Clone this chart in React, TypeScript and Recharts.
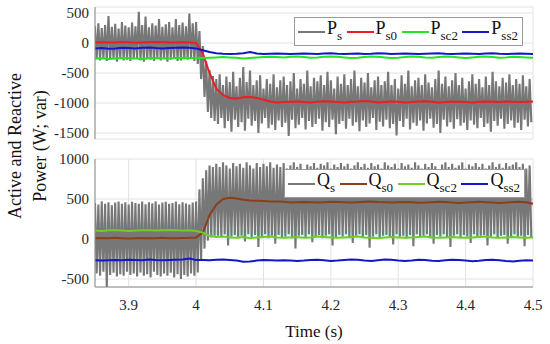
import { LineChart, Line, XAxis, YAxis, CartesianGrid, ReferenceArea } from 'recharts'

const FONT = '"Liberation Serif", "Times New Roman", serif'
const FRAME = '#8c8c8c'
const GRID = '#e2e2e2'

// time grid: the fast (grey) signals have one peak and one trough every 5 ms,
// the filtered signals are read every 10 ms
const T0 = 3.85
const FAST_STEP = 0.005
const SLOW_STEP = 0.01
const xTicks = [3.9, 4, 4.1, 4.2, 4.3, 4.4, 4.5]

// ---- active power (W) ----
const psHigh = [
  280, 330, 250, 300, 450, 270, 320, 240, 350, 290, 260, 340, 280, 520, 300, 440, 260, 330, 290, 400,
  270, 310, 350, 260, 400, 300, 340, 280, 490, 330,
  350, 200, -50, -300, -450, -550,
  -600, -520, -700, -560, -650, -480, -720, -580, -400, -650,
  -460, -700, -620, -540, -760, -600, -680, -520, -740, -620,
  -560, -700, -640, -500, -760, -600, -680, -460, -720, -580,
  -640, -540, -700, -480, -620, -760, -560, -680, -520, -700,
  -600, -460, -720, -580, -660, -500, -740, -620, -560, -700,
  -640, -480, -700, -600, -760, -540, -680, -460, -720, -620,
  -580, -700, -520, -660, -740, -600, -460, -680, -560, -720,
  -620, -500, -700, -580, -760, -640, -520, -680, -600, -740,
  -560, -700, -480, -640, -720, -580, -660, -520, -700, -600,
  -680, -540, -720, -600,
]
const psLow = [
  -270, -290, -260, -300, -280, -270, -310, -260, -290, -280, -300, -270, -260, -290, -310, -270, -280, -300, -260, -290,
  -270, -310, -280, -260, -300, -290, -270, -280, -260, -300,
  -350, -600, -900, -1150, -1250, -1300,
  -1350, -1250, -1420, -1300, -1480, -1280, -1400, -1320, -1460, -1260,
  -1380, -1300, -1500, -1340, -1250, -1420, -1360, -1450, -1290, -1400,
  -1330, -1550, -1280, -1420, -1360, -1250, -1440, -1300, -1400, -1350,
  -1260, -1460, -1320, -1400, -1280, -1520, -1350, -1300, -1430, -1260,
  -1380, -1320, -1470, -1290, -1400, -1340, -1250, -1450, -1310, -1390,
  -1280, -1420, -1350, -1540, -1300, -1400, -1260, -1440, -1330, -1380,
  -1290, -1460, -1340, -1260, -1410, -1350, -1500, -1280, -1390, -1320,
  -1430, -1270, -1380, -1330, -1450, -1290, -1360, -1420, -1250, -1400,
  -1340, -1480, -1300, -1380, -1260, -1430, -1350, -1290, -1410, -1330,
  -1450, -1280, -1390, -1320,
]
const ps0 = [
  10, 12, 8, 10, 15, 12, 5, 10, 12, 15, 12, 10, 8, 12, 10, 0,
  -180, -500, -760, -870, -915, -925, -905, -900, -915, -945, -975, -990, -985,
  -980, -975, -985, -990, -980, -970, -975, -985, -990, -980, -975, -965, -975, -990, -985, -975,
  -980, -990, -985, -975, -970, -980, -990, -985, -975, -980, -985, -990, -980, -975, -980, -985,
  -975, -980, -985, -980, -975,
]
const psc2 = [
  -260, -255, -265, -260, -250, -255, -260, -265, -255, -250, -255, -260, -250, -245, -250, -255,
  -250, -245, -240, -235, -240, -245, -260, -250, -240, -235, -230, -235, -240,
  -230, -225, -235, -245, -240, -230, -225, -230, -240, -250, -245, -235, -225, -230, -240, -250,
  -245, -235, -225, -230, -240, -245, -235, -225, -230, -240, -250, -240, -230, -225, -235, -245,
  -240, -230, -235, -240, -245,
]
const pss2 = [
  -90, -85, -95, -90, -80, -85, -90, -80, -75, -85, -90, -85, -80, -75, -80, -90,
  -120, -150, -170, -180, -185, -180, -170, -150, -175, -185, -180, -175, -180,
  -185, -180, -175, -180, -185, -175, -170, -180, -185, -180, -175, -185, -180, -170, -175, -185,
  -180, -175, -180, -185, -180, -175, -170, -180, -185, -180, -175, -180, -185, -175, -170, -180,
  -185, -180, -175, -180, -185,
]

// ---- reactive power (var) ----
const qsHigh = [
  450, 430, 470, 440, 460, 420, 455, 470, 440, 460, 430, 465, 450, 440, 470, 435, 460, 445, 470, 430,
  455, 465, 440, 450, 470, 435, 460, 445, 430, 455,
  470, 620, 760, 860, 920, 900,
  940, 900, 960, 920, 880, 950, 910, 940, 890, 960,
  920, 880, 950, 900, 940, 910, 960, 890, 930, 900,
  950, 880, 920, 960, 900, 940, 870, 930, 910, 950,
  890, 940, 920, 960, 880, 930, 900, 950, 910, 940,
  880, 920, 960, 900, 940, 890, 950, 910, 930, 880,
  960, 920, 900, 940, 880, 950, 910, 930, 890, 960,
  920, 880, 940, 900, 950, 910, 870, 930, 960, 900,
  940, 890, 920, 960, 880, 930, 910, 950, 900, 940,
  880, 920, 960, 900, 940, 890, 950, 910, 930, 960,
  900, 940, 880, 920,
]
const qsLow = [
  -430, -460, -410, -600, -450, -420, -470, -440, -460, -410, -450, -430, -470, -420, -460, -440, -480, -410, -450, -470,
  -430, -460, -420, -480, -440, -500, -450, -470, -430, -460,
  -420, -260, -120, -20, 20, 40,
  40, 20, 60, -80, 30, 50, 10, 40, -30, 60,
  20, 50, -100, 30, 60, 10, 40, -60, 50, 20,
  30, 60, 10, -120, 40, 50, 20, 60, -40, 30,
  50, 10, 40, 60, -80, 20, 50, 30, 60, 10,
  -50, 40, 60, 20, 50, -110, 30, 60, 10, 40,
  50, 20, -70, 60, 30, 40, 10, 50, -90, 60,
  20, 40, 60, 10, -60, 50, 30, 60, 20, -100,
  40, 60, 10, 50, 30, -50, 60, 20, 40, 50,
  -80, 30, 60, 10, 40, 50, -60, 20, 60, 30,
  40, -90, 50, 20,
]
const qs0 = [
  10, 12, 8, 15, 10, 5, 10, 12, 8, 10, 15, 10, 8, 12, 15, 20,
  80, 300, 430, 500, 515, 505, 490, 482, 478, 474, 470, 468, 465,
  455, 460, 462, 458, 455, 460, 465, 462, 458, 455, 460, 465, 468, 462, 458, 455,
  460, 462, 458, 452, 455, 460, 465, 462, 455, 450, 455, 460, 465, 460, 455, 450,
  455, 462, 465, 458, 440,
]
const qsc2 = [
  105, 100, 108, 110, 105, 100, 105, 110, 108, 105, 110, 112, 108, 105, 110, 100,
  80, 40, 25, 30, 20, 15, 25, 10, 20, 25, 30, 20, 15,
  20, 25, 15, 20, 30, 25, 20, 15, 20, 25, 30, 20, 15, 10, 20, 25,
  20, 15, 20, 25, 30, 20, 15, 20, 25, 20, 15, 20, 25, 30, 20, 15,
  20, 25, 20, 15, 20,
]
const qss2 = [
  -265, -268, -265, -262, -265, -260, -262, -265, -255, -262, -265, -262, -258, -255, -245, -262,
  -262, -265, -258, -255, -262, -270, -285, -282, -270, -262, -265, -270, -265,
  -268, -275, -270, -262, -258, -265, -275, -270, -262, -255, -260, -270, -275, -265, -255, -260,
  -270, -275, -268, -258, -262, -272, -275, -265, -258, -262, -270, -278, -272, -262, -258, -265,
  -275, -280, -272, -265, -270,
]
// translucent envelopes around Qs0 (pink) and Qsc2 (cyan)
const pinkBands = [
  { x1: 3.85, x2: 4.0, y1: -20, y2: 100 },
  { x1: 4.015, x2: 4.5, y1: 400, y2: 510 },
]
const cyanBands = [
  { x1: 3.85, x2: 4.0, y1: 110, y2: 210 },
  { x1: 4.01, x2: 4.5, y1: 20, y2: 110 },
]

type Pt = { t: number; v: number }

function toWave(high: number[], low: number[]): Pt[] {
  return high.flatMap((h, i) => [
    { t: +(T0 + i * FAST_STEP).toFixed(4), v: h },
    { t: +(T0 + i * FAST_STEP + FAST_STEP / 2).toFixed(4), v: low[i] },
  ])
}
function toLine(vals: number[]): Pt[] {
  return vals.map((v, i) => ({ t: +(T0 + i * SLOW_STEP).toFixed(3), v }))
}

interface Series { base: string; sub: string; color: string; data: Pt[]; width: number }

const GREY = '#777777'

const pSeries: Series[] = [
  { base: 'P', sub: 's', color: GREY, data: toWave(psHigh, psLow), width: 2.1 },
  { base: 'P', sub: 's0', color: '#ee1c24', data: toLine(ps0), width: 2 },
  { base: 'P', sub: 'sc2', color: '#1fe81f', data: toLine(psc2), width: 2 },
  { base: 'P', sub: 'ss2', color: '#1616c8', data: toLine(pss2), width: 2 },
]
const qSeries: Series[] = [
  { base: 'Q', sub: 's', color: GREY, data: toWave(qsHigh, qsLow), width: 2.1 },
  { base: 'Q', sub: 's0', color: '#8a3f1a', data: toLine(qs0), width: 2 },
  { base: 'Q', sub: 'sc2', color: '#74cc22', data: toLine(qsc2), width: 2 },
  { base: 'Q', sub: 'ss2', color: '#1616c8', data: toLine(qss2), width: 2 },
]

function LegendBox({ items, left, top, width }: { items: Series[]; left: number; top: number; width: number }) {
  return (
    <div style={{
      position: 'absolute', left, top, width, height: 29, boxSizing: 'border-box',
      background: '#fff', border: '1px solid #9a9a9a', display: 'flex', alignItems: 'center',
      justifyContent: 'space-between', padding: '0 4px 0 3px', fontFamily: FONT, fontSize: 18, color: '#111',
    }}>
      {items.map(s => (
        <div key={s.sub} style={{ display: 'flex', alignItems: 'center', height: 29 }}>
          <div style={{ width: 27, height: 2, background: s.color }} />
          <span style={{ marginLeft: 2, lineHeight: '18px', position: 'relative', top: -3 }}>
            {s.base}
            <span style={{ fontSize: 13, position: 'relative', top: 6 }}>{s.sub}</span>
          </span>
        </div>
      ))}
    </div>
  )
}

interface PanelProps {
  top: number
  height: number
  margin: { top: number; right: number; bottom: number; left: number }
  xAxisHeight: number
  yDomain: [number, number]
  yTicks: number[]
  series: Series[]
  bands?: { color: string; list: typeof pinkBands }[]
  showTime?: boolean
}

function Panel({ top, height, margin, xAxisHeight, yDomain, yTicks, series, bands = [], showTime }: PanelProps) {
  const tickStyle = { fill: '#262626', fontSize: 15, fontFamily: FONT }
  return (
    <div style={{ position: 'absolute', left: 0, top }}>
      <LineChart width={550} height={height} margin={margin}>
        <CartesianGrid stroke={GRID} />
        <XAxis
          dataKey="t" type="number" domain={[3.85, 4.5]} ticks={xTicks} allowDataOverflow
          height={xAxisHeight}
          tick={showTime ? tickStyle : false} tickLine={false} tickSize={6} tickMargin={6}
          axisLine={{ stroke: FRAME }}
          label={showTime ? { value: 'Time (s)', position: 'insideBottom', offset: 7, fill: '#111', fontSize: 17, fontFamily: FONT } : undefined}
        />
        <XAxis xAxisId="top" orientation="top" type="number" domain={[3.85, 4.5]} height={0}
          tick={false} tickLine={false} axisLine={{ stroke: FRAME }} />
        <YAxis
          type="number" domain={yDomain} ticks={yTicks} allowDataOverflow width={95}
          tick={tickStyle} tickLine={false} tickSize={4} tickMargin={2} axisLine={{ stroke: FRAME }}
        />
        <YAxis yAxisId="right" orientation="right" type="number" domain={yDomain} width={0}
          tick={false} tickLine={false} axisLine={{ stroke: FRAME }} />
        {series.map(s => (
          <Line key={s.sub} data={s.data} dataKey="v" type="linear" dot={false} activeDot={false}
            stroke={s.color} strokeWidth={s.width} isAnimationActive={false} />
        ))}
        {bands.flatMap(b => b.list.map((r, i) => (
          <ReferenceArea key={b.color + i} x1={r.x1} x2={r.x2} y1={r.y1} y2={r.y2}
            fill={b.color} fillOpacity={0.3} stroke="none" ifOverflow="hidden" />
        )))}
      </LineChart>
    </div>
  )
}

export default function App() {
  return (
    <div style={{ position: 'absolute', left: 0, top: 0, width: 550, height: 344, background: '#fff', fontFamily: FONT }}>
      <Panel top={0} height={150} margin={{ top: 7, right: 17, bottom: 11, left: 0 }} xAxisHeight={0}
        yDomain={[-1600, 600]} yTicks={[-1500, -1000, -500, 0, 500]} series={pSeries} />
      <Panel top={150} height={194} margin={{ top: 9, right: 17, bottom: 0, left: 0 }} xAxisHeight={57}
        yDomain={[-600, 1000]} yTicks={[-500, 0, 500, 1000]} series={qSeries} showTime
        bands={[{ color: '#ff7f9a', list: pinkBands }, { color: '#4dffe6', list: cyanBands }]} />
      <LegendBox items={pSeries} left={294} top={17} width={229} />
      <LegendBox items={qSeries} left={284} top={169} width={241} />
      <div style={{
        position: 'absolute', left: 28, top: 146, width: 260, transform: 'translate(-50%, -50%) rotate(-90deg)',
        textAlign: 'center', fontSize: 18, lineHeight: '25px', color: '#111',
      }}>
        <div>Active and Reactive</div>
        <div>Power (W; var)</div>
      </div>
    </div>
  )
}
